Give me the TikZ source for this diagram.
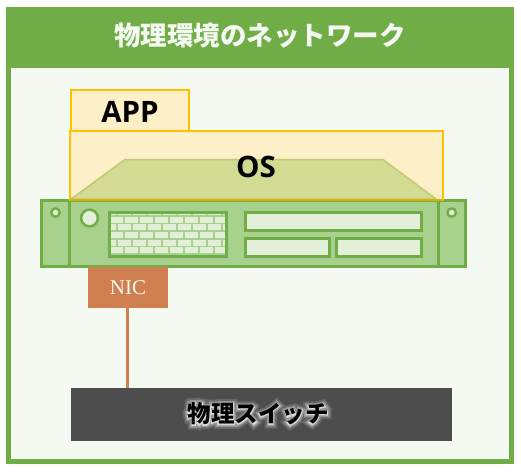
\documentclass[tikz,border=0pt]{standalone}
\usepackage{fontspec}
\setmainfont{Open Sans}
\newfontfamily\jpfont{Noto Sans CJK JP}
\newfontfamily\jpglowa{Noto Sans CJK JP}[BoldFont=*,BoldFeatures={FakeBold=42}]
\newfontfamily\jpglowb{Noto Sans CJK JP}[BoldFont=*,BoldFeatures={FakeBold=26}]
\newfontfamily\jpglowc{Noto Sans CJK JP}[BoldFont=*,BoldFeatures={FakeBold=12}]
\newfontfamily\serifont{Liberation Serif}
\definecolor{grn}{HTML}{70AD47}
\definecolor{lgrn}{HTML}{A9D18E}
\definecolor{pgrn}{HTML}{E2F0D9}
\definecolor{bgc}{HTML}{F4F9F1}
\definecolor{yel}{HTML}{FFC000}
\definecolor{lyel}{HTML}{FDF0C8}
\definecolor{trap}{HTML}{D3DA92}
\definecolor{trapl}{HTML}{BFCB73}
\definecolor{nicc}{HTML}{D08050}
\definecolor{swc}{HTML}{4D4D4D}
\definecolor{gloa}{HTML}{686868}
\definecolor{glob}{HTML}{949494}
\definecolor{gloc}{HTML}{D8D8D8}
\newcommand{\glowcopy}[3]{\makebox[0pt]{{#2\textcolor{#1}{#3}}}}
\newcommand{\glowtext}[1]{%
\glowcopy{gloa}{\jpglowa\bfseries}{#1}%
\glowcopy{glob}{\jpglowb\bfseries}{#1}%
\glowcopy{gloc}{\jpglowc\bfseries}{#1}%
\glowcopy{black}{\jpfont\bfseries}{#1}}
\tikzset{
 x=1pt,y=-1pt,
 frame/.style={fill=grn,draw=none},
 inner/.style={fill=bgc,draw=none},
 softbox/.style={draw=yel,fill=lyel,line width=2pt},
 srv/.style={draw=grn,fill=lgrn,line width=3pt},
 slot/.style={draw=grn,fill=pgrn,line width=3pt},
 brick/.style={fill=pgrn,draw=none},
 lbl/.style={font=\bfseries\fontsize{29.5}{29.5}\selectfont,inner sep=0pt,text=black},
}
\begin{document}
\begin{tikzpicture}
\useasboundingbox (0,0) rectangle (521,472);
\fill[white] (0,0) rectangle (521,472);
\fill[frame] (6,7) rectangle (514,464);
\fill[inner] (11,68) rectangle (509,459);
\node[inner sep=0pt,text=bgc,font=\jpfont\bfseries\fontsize{26.5}{26.5}\selectfont] (title) at (260,36) {物理環境のネットワーク};
% server
\draw[srv] (41.5,200.5) rectangle (465.5,266);
\draw[srv] (41.5,200.5) rectangle (69,266);
\draw[srv] (438,200.5) rectangle (465.5,266);
\draw[draw=grn,fill=pgrn,line width=2.4pt] (55.5,212.5) circle (4.2);
\draw[draw=grn,fill=pgrn,line width=2.4pt] (451.7,212.5) circle (4.2);
\draw[draw=grn,fill=pgrn,line width=2.5pt] (89.5,218) circle (8.4);
% brick panel
\fill[lgrn] (109,212) rectangle (227,257);
\begin{scope}
\clip (110,213) rectangle (226,256);
\foreach \r in {0,1,2,3,4,5}{
  \pgfmathsetmacro{\yy}{209.1+\r*7.6}
  \pgfmathsetmacro{\ofs}{mod(\r,2)==0 ? 7.5 : 0}
  \foreach \k in {-1,...,8}{
    \fill[brick] ({110+\ofs+\k*15},\yy) rectangle ++(13.3,6);
  }
}
\end{scope}
\draw[draw=grn,line width=3pt] (109.5,212.5) rectangle (226.5,256.5);
\draw[slot] (245,212.5) rectangle (421.5,230);
\draw[slot] (245,238.5) rectangle (329,256);
\draw[slot] (336.5,238.5) rectangle (421.5,256);
% OS and APP
\draw[softbox] (71,89.5) rectangle (189,131);
\draw[softbox] (70,131) rectangle (443,200);
\draw[fill=trap,draw=trapl,line width=1.5pt] (71,199) -- (125,159.5) -- (383,159.5) -- (436,199) -- cycle;
\draw[yel!90!black,line width=2pt] (70,200) -- (443,200);
\node[lbl] (app) at (130,112) {APP};
\node[lbl] (os) at (256,167) {OS};
% NIC and switch
\node[fill=nicc,minimum width=80pt,minimum height=41pt,inner sep=0pt,outer sep=0pt,text=pgrn!40!white,font=\serifont\fontsize{21}{21}\selectfont,anchor=north west] (nic) at (88,267) {NIC};
\node[fill=swc,minimum width=381pt,minimum height=53pt,inner sep=0pt,outer sep=0pt,anchor=north west] (sw) at (71,388) {};
\coordinate (swtop) at (127.5,388);
\draw[nicc,line width=3pt] (nic.south -| swtop) -- (swtop);
\node[inner sep=0pt,font=\fontsize{23.5}{23.5}\selectfont] (swl) at (258,414) {\glowtext{物理スイッチ}};
\end{tikzpicture}
\end{document}
